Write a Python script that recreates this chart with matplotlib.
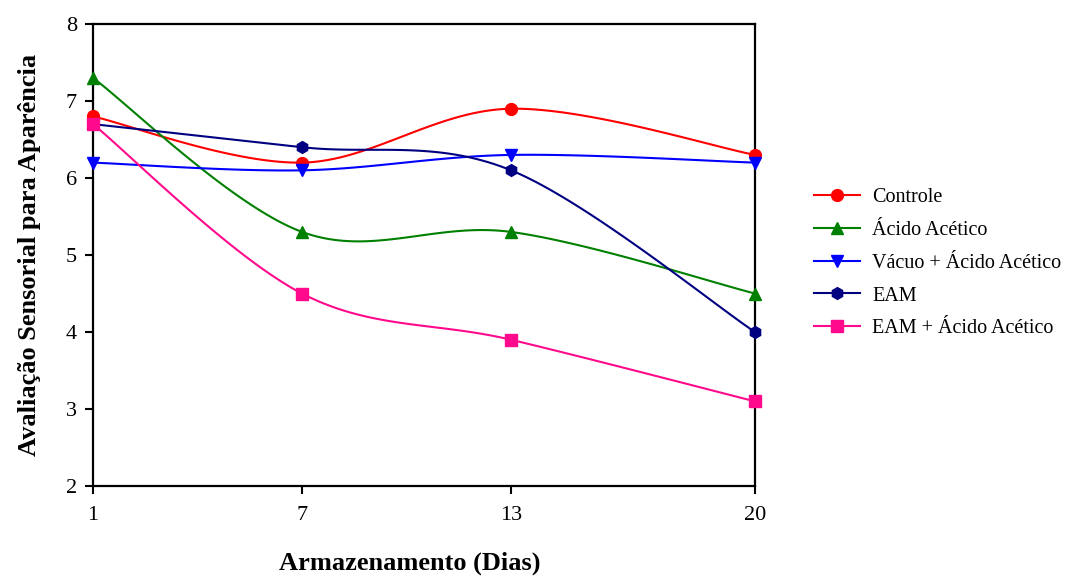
import numpy as np
import matplotlib.pyplot as plt

# data
dias = [1, 7, 13, 20]
controle = [6.8, 6.2, 6.9, 6.3]
acido_acetico = [7.3, 5.3, 5.3, 4.5]
vacuo_acido = [6.2, 6.1, 6.3, 6.2]
eam = [6.7, 6.4, 6.1, 4.0]
eam_acido = [6.7, 4.5, 3.9, 3.1]

labels = ["Controle", "Ácido Acético", "Vácuo + Ácido Acético", "EAM", "EAM + Ácido Acético"]
series = [controle, acido_acetico, vacuo_acido, eam, eam_acido]
colors = ["#FF0000", "#008000", "#0000FF", "#000080", "#FF0A8C"]
markers = ["o", "^", "v", "h", "s"]


def smooth(x, y, n=40):
    # excel-like smoothed line (catmull-rom as bezier)
    p = np.column_stack([x, y]).astype(float)
    p_ext = np.vstack([p[0], p, p[-1]])
    t = np.linspace(0, 1, n)[:, None]
    out = []
    for i in range(len(p) - 1):
        p0, p1, p2, p3 = p_ext[i], p_ext[i + 1], p_ext[i + 2], p_ext[i + 3]
        c1 = p1 + (p2 - p0) / 6
        c2 = p2 - (p3 - p1) / 6
        seg = ((1 - t) ** 3) * p1 + 3 * ((1 - t) ** 2) * t * c1 + 3 * (1 - t) * t ** 2 * c2 + t ** 3 * p2
        out.append(seg if i == 0 else seg[1:])
    out = np.vstack(out)
    return out[:, 0], out[:, 1]


plt.rcParams['font.family'] = ['Liberation Serif', 'DejaVu Serif']

fig = plt.figure(figsize=(10.76, 5.78), dpi=100)
ax = fig.add_axes([0.0864, 0.159, 0.6153, 0.7995])

handles = []
for y, lab, c, m in zip(series, labels, colors, markers):
    sx, sy = smooth(dias, y)
    ax.plot(sx, sy, color=c, lw=1.5, zorder=2, clip_on=False)
    ax.plot(dias, y, linestyle='none', marker=m, color=c, markersize=8.5, zorder=3, clip_on=False)
    h, = ax.plot([], [], color=c, lw=1.5, marker=m, markersize=8.5, label=lab)
    handles.append(h)

ax.set_xlim(1, 20)
ax.set_ylim(2, 8)
ax.set_xticks(dias)
ax.set_yticks(range(2, 9))
ax.tick_params(axis='both', direction='out', length=5.5, width=1.5, labelsize=16)
ax.tick_params(axis='x', pad=9)
ax.tick_params(axis='y', pad=6)
for s in ax.spines.values():
    s.set_linewidth(1.6)
    s.set_color('black')

ax.set_xlabel("Armazenamento (Dias)", fontsize=19, fontweight='bold')
ax.xaxis.set_label_coords(0.479, -0.167)
ax.xaxis.label.set_va('center')
ax.set_ylabel("Avaliação Sensorial para Aparência", fontsize=19, fontweight='bold', labelpad=18)

fig.legend(handles=handles, loc='upper left', bbox_to_anchor=(0.7396, 0.706), frameon=False,
           fontsize=14.5, handlelength=2.3, labelspacing=0.68, handletextpad=0.6)

fig.savefig("out.png", dpi=100)
